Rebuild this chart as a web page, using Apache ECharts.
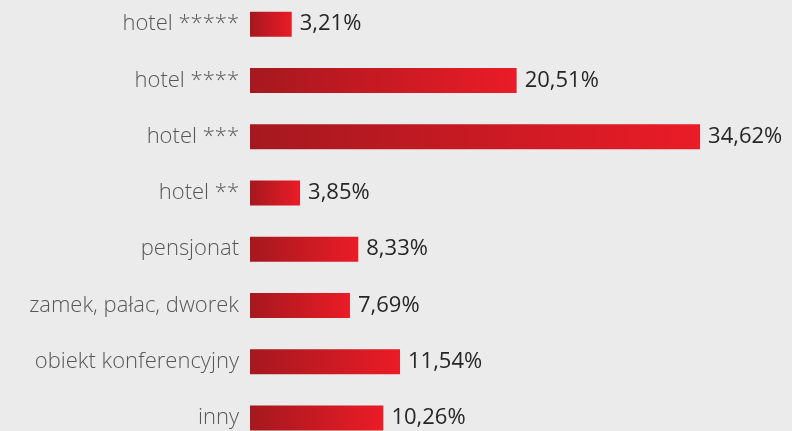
<!DOCTYPE html>
<html>
<head>
<meta charset="utf-8">
<script src="https://cdn.jsdelivr.net/npm/echarts@6/dist/echarts.min.js"></script>
<style>
  html, body { margin: 0; padding: 0; background: #ebebeb; }
  #chart { width: 792px; height: 431px; }
</style>
</head>
<body>
<div id="chart"></div>
<script>
// Rodzaje obiektów (od góry do dołu)
const categories = [
  'hotel *****',
  'hotel ****',
  'hotel ***',
  'hotel **',
  'pensjonat',
  'zamek, pałac, dworek',
  'obiekt konferencyjny',
  'inny'
];
// Udział procentowy
const values = [3.21, 20.51, 34.62, 3.85, 8.33, 7.69, 11.54, 10.26];

const chart = echarts.init(document.getElementById('chart'));

const barGradient = new echarts.graphic.LinearGradient(0, 0, 1, 0, [
  { offset: 0, color: '#a5181f' },
  { offset: 1, color: '#ea1c27' }
]);

chart.setOption({
  backgroundColor: '#ebebeb',
  animation: false,
  grid: {
    left: 250, right: 22, top: -4, height: 450,
    containLabel: false,
    outerBoundsMode: 'none'
  },
  xAxis: {
    type: 'value',
    min: 0,
    max: 40,
    show: false
  },
  yAxis: {
    type: 'category',
    data: categories,
    inverse: true,
    axisLine: { show: false },
    axisTick: { show: false },
    splitLine: { show: false },
    axisLabel: {
      margin: 11,
      color: '#575757',
      fontFamily: 'Open Sans',
      fontWeight: 300,
      fontSize: 22
    }
  },
  series: [{
    type: 'bar',
    data: values,
    barWidth: 25,
    itemStyle: { color: barGradient },
    label: {
      show: true,
      position: 'right',
      distance: 8,
      color: '#262626',
      fontFamily: 'Open Sans',
      fontWeight: 500,
      fontSize: 22,
      formatter: p => p.value.toFixed(2).replace('.', ',') + '%'
    }
  }]
});
</script>
</body>
</html>
